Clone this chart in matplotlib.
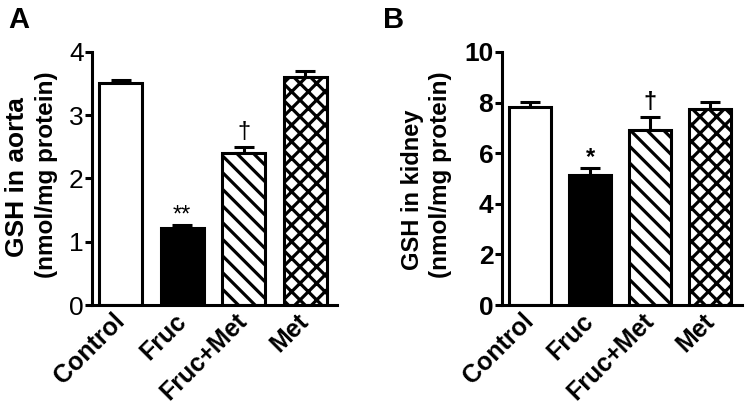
import numpy as np
import matplotlib.pyplot as plt

plt.rcParams['font.family'] = ['Liberation Sans', 'DejaVu Sans']
plt.rcParams['hatch.linewidth'] = 2.3

GROUPS = ['Control', 'Fruc', 'Fruc+Met', 'Met']
AORTA_MEAN = [3.51, 1.22, 2.41, 3.61]
AORTA_SEM = [0.05, 0.05, 0.09, 0.09]
AORTA_SIG = ['', '**', '\u2020', '']
KIDNEY_MEAN = [7.81, 5.14, 6.92, 7.73]
KIDNEY_SEM = [0.22, 0.29, 0.50, 0.28]
KIDNEY_SIG = ['', '*', '\u2020', '']

FACES = ['white', 'black', 'white', 'white']
HATCHES = [None, None, '\\\\', 'xx']
LW = 2.2


def draw_panel(ax, means, sems, sigs, ymax, step, tick_weight):
  x = np.arange(len(GROUPS))
  for i in range(len(GROUPS)):
    ax.bar(x[i], means[i], width=0.7, color=FACES[i], edgecolor='black',
           linewidth=LW, hatch=HATCHES[i], zorder=2)
  ax.errorbar(x, means, yerr=[np.zeros(len(x)), sems], fmt='none',
              ecolor='black', elinewidth=LW, capsize=7.5, capthick=LW, zorder=1)
  for i, s in enumerate(sigs):
    if s:
      # '*' sits high in the glyph box, nudge it down a bit
      off = -1 if '*' in s else 2.5
      ax.annotate(s, (x[i], means[i] + sems[i]), xytext=(0, off),
                  textcoords='offset points', ha='center', va='bottom',
                  fontsize=17, fontweight=tick_weight)
  ax.set_xlim(-0.47, 3.52)
  ax.set_ylim(0, ymax)
  ax.set_yticks(np.arange(0, ymax + step / 2, step))
  ax.set_xticks(x)
  ax.set_xticklabels(GROUPS, rotation=45, ha='right', va='center',
                     rotation_mode='anchor', fontsize=18, fontweight='bold')
  for lab in ax.get_yticklabels():
    lab.set_fontsize(19)
    lab.set_fontweight(tick_weight)
  ax.tick_params(axis='y', direction='out', length=5, width=LW, pad=1)
  ax.tick_params(axis='x', length=0, pad=9)
  for side in ['top', 'right']:
    ax.spines[side].set_visible(False)
  for side in ['left', 'bottom']:
    ax.spines[side].set_linewidth(LW)


fig = plt.figure(figsize=(7.49, 4.11), dpi=100)
ax1 = fig.add_axes([0.1228, 0.2579, 0.3271, 0.6156])
ax2 = fig.add_axes([0.6698, 0.2579, 0.3204, 0.6156])

draw_panel(ax1, AORTA_MEAN, AORTA_SEM, AORTA_SIG, 4, 1, 'normal')
draw_panel(ax2, KIDNEY_MEAN, KIDNEY_SEM, KIDNEY_SIG, 10, 2, 'bold')

# y labels, two lines each
fig.text(17 / 749, 1 - 177 / 411, 'GSH in aorta', rotation=90, ha='center',
         va='center', fontsize=19, fontweight='bold')
fig.text(47 / 749, 1 - 175 / 411, '(nmol/mg protein)', rotation=90, ha='center',
         va='center', fontsize=17.5, fontweight='bold')
fig.text(412 / 749, 1 - 190 / 411, 'GSH in kidney', rotation=90, ha='center',
         va='center', fontsize=17, fontweight='bold')
fig.text(440 / 749, 1 - 175 / 411, '(nmol/mg protein)', rotation=90, ha='center',
         va='center', fontsize=17.5, fontweight='bold')

fig.text(8 / 749, 1 - 6 / 411, 'A', ha='left', va='top', fontsize=21,
         fontweight='bold')
fig.text(383 / 749, 1 - 6 / 411, 'B', ha='left', va='top', fontsize=21,
         fontweight='bold')

fig.savefig('out.png', dpi=100)
